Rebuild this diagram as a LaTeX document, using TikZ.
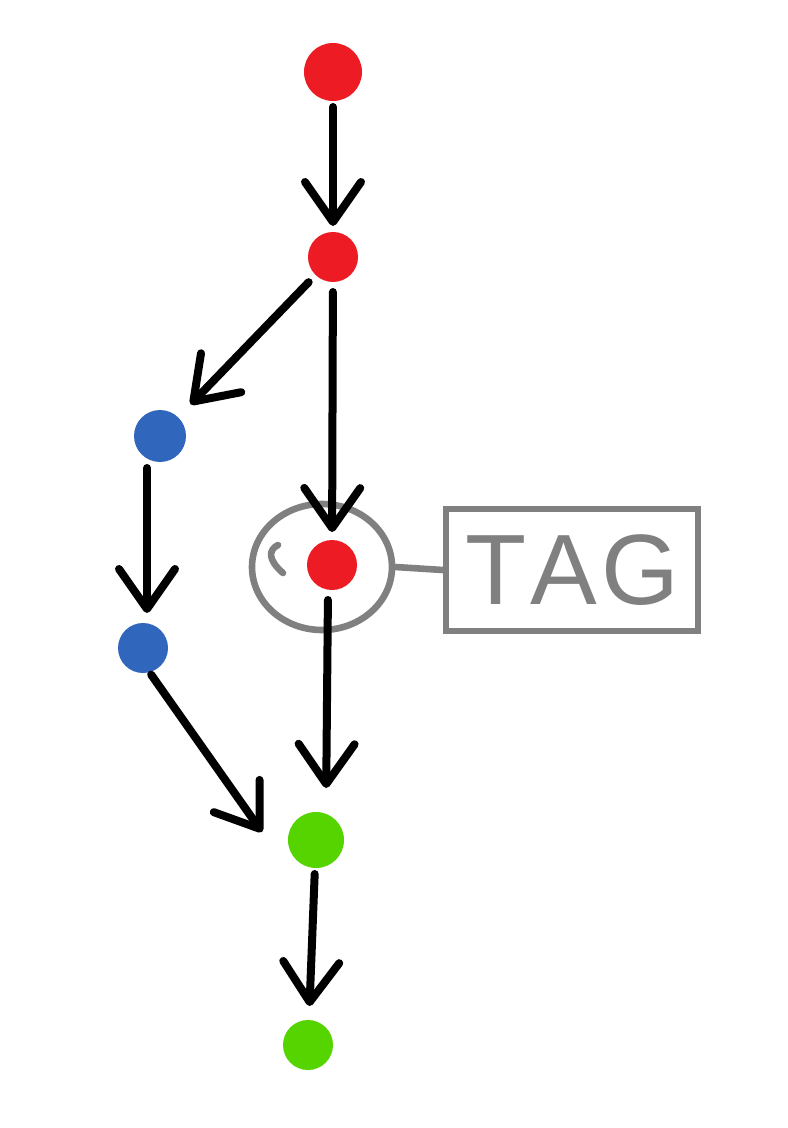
\documentclass[tikz,border=0pt]{standalone}
\usepackage{fontspec}
\setmainfont{Liberation Sans}
\usetikzlibrary{arrows.meta,shapes.geometric}
\definecolor{cred}{RGB}{237,28,36}
\definecolor{cblue}{RGB}{49,102,189}
\definecolor{cgreen}{RGB}{85,212,0}
\definecolor{cgrey}{RGB}{128,128,128}
\tikzset{
  commit/.style={circle,inner sep=0pt,outer sep=0pt,minimum size=#1},
  edge/.style={line width=4pt,line cap=round,line join=round,
    -{Straight Barb[length=20pt,width=28pt,line cap=round,line join=round]}},
  greyline/.style={cgrey,line width=3.3pt,line cap=round,line join=round},
}
\begin{document}
\begin{tikzpicture}[x=0.5pt,y=-0.5pt]
\useasboundingbox[fill=white] (0,0) rectangle (787,1128);
% commits
\node[commit=29pt,fill=cred] (r1) at (333,72) {};
\node[commit=25pt,fill=cred] (r2) at (333,257) {};
\node[commit=26pt,fill=cblue] (b1) at (160,436) {};
\node[commit=25pt,fill=cblue] (b2) at (143,648) {};
\node[commit=25pt,fill=cred] (r3) at (332,565) {};
\node[commit=28pt,fill=cgreen] (g1) at (316,840) {};
\node[commit=25pt,fill=cgreen] (g2) at (308,1045) {};
% tag ring and box
\node[ellipse,draw=cgrey,line width=3.3pt,minimum width=70pt,minimum height=63pt,inner sep=0pt] (ring) at (322,567) {};
\draw[greyline] (283,573) .. controls (268,560) and (268,550) .. (278,545);
\node[draw=cgrey,line width=3.3pt,minimum width=126pt,minimum height=61pt,inner sep=0pt,
  text=cgrey,font=\fontsize{50}{50}\selectfont] (tag) at (572,570) {T\kern2pt A\kern2pt G};
\draw[greyline] (ring.east) -- (tag.west);
% edges
\draw[edge,shorten <=3pt,shorten >=3pt] (r1) -- (r2);
\draw[edge,shorten <=5pt,shorten >=9pt] (r2) -- (b1);
\draw[edge,shorten <=5pt,shorten >=4pt] (r2) -- (r3);
\draw[edge,shorten <=3pt,shorten >=5pt] ([xshift=-6.5pt]b1.south) -- ([xshift=2pt]b2.north);
\draw[edge,shorten <=1pt] ([xshift=3.5pt]b2.south) -- ([shift={(-13pt,4pt)}]g1.west);
\draw[edge,shorten <=5pt,shorten >=12pt] ([xshift=-2pt]r3.south) -- ([xshift=5pt]g1.north);
\draw[edge,shorten <=3pt,shorten >=7pt] (g1) -- (g2);
\end{tikzpicture}
\end{document}
